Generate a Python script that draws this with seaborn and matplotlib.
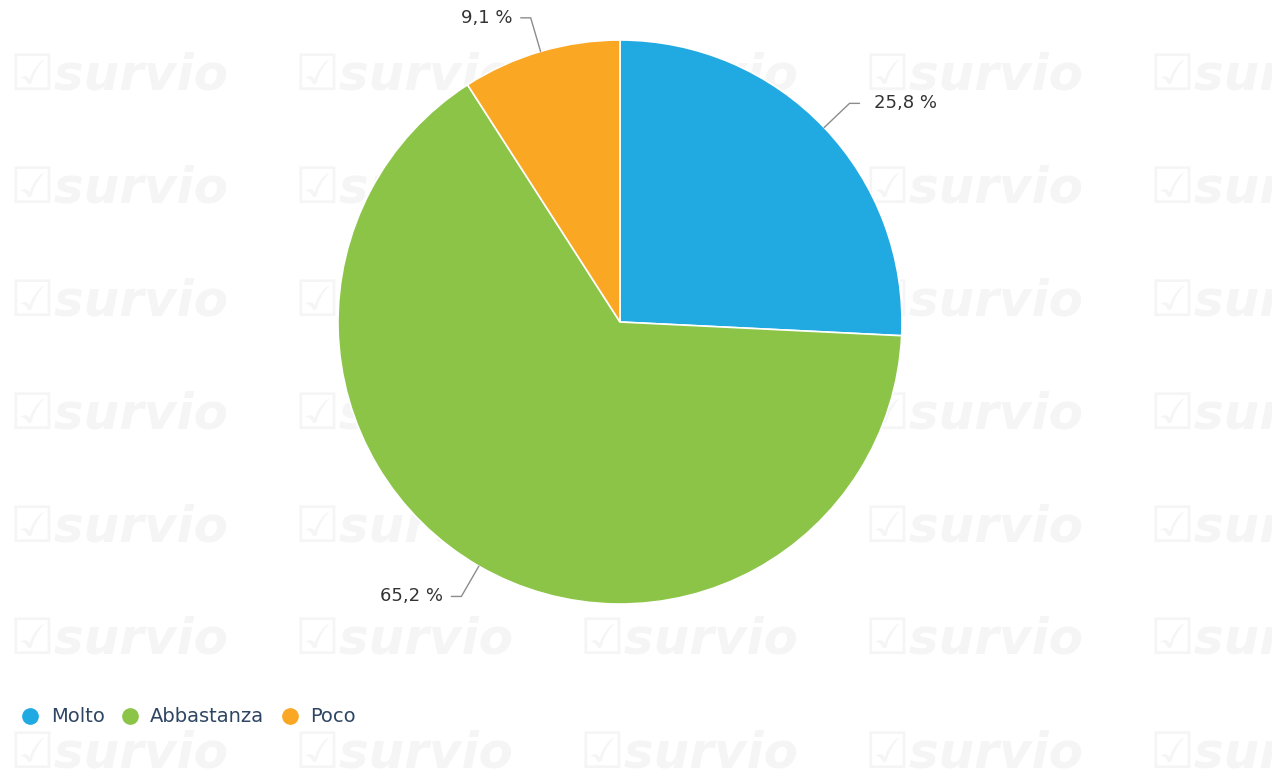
import numpy as np
import matplotlib.pyplot as plt
import seaborn as sns
from matplotlib.lines import Line2D

# dati
categorie = ['Molto', 'Abbastanza', 'Poco']
percentuali = [25.8, 65.2, 9.1]
etichette = ['25,8 %', '65,2 %', '9,1 %']
colori = ['#21a9e1', '#8bc447', '#faa723']

sns.set_theme(style='white')
plt.rcParams['font.family'] = ['DejaVu Sans']

W, H = 1272, 778
fig = plt.figure(figsize=(W / 100, H / 100), dpi=100)
fig.patch.set_facecolor('white')

# watermark survio (sfondo)
bg = fig.add_axes([0, 0, 1, 1], zorder=-10)
bg.set_xlim(0, W)
bg.set_ylim(H, 0)
bg.axis('off')
for xw in range(10, W, 285):
    for yw in range(75, H + 60, 113):
        bg.text(xw, yw, '\u2611survio', fontsize=36, fontweight='bold',
                fontstyle='italic', color='#f5f5f5', va='center', ha='left', clip_on=True)

# torta: centro (620, 322) px, raggio 282 px
cx, cy, R = 620, 322, 282
half = 320
ax = fig.add_axes([(cx - half) / W, (H - cy - half) / H, 2 * half / W, 2 * half / H])
wedges, _ = ax.pie(percentuali, colors=colori, startangle=90, counterclock=False,
                   radius=R, center=(0, 0), wedgeprops=dict(edgecolor='white', linewidth=1.2))
ax.set_xlim(-half, half)
ax.set_ylim(-half, half)
ax.set_aspect('equal')
ax.axis('off')
ax.patch.set_visible(False)

# etichette con connettori
for w, lab in zip(wedges, etichette):
    ang = np.deg2rad((w.theta1 + w.theta2) / 2)
    x0, y0 = R * np.cos(ang), R * np.sin(ang)
    x1, y1 = (R + 35) * np.cos(ang), (R + 35) * np.sin(ang)
    s = 1 if np.cos(ang) >= 0 else -1
    x2 = x1 + s * 10
    ax.plot([x0, x1, x2], [y0, y1, y1], color='#8c8c8c', lw=1, clip_on=False)
    ax.text(x2 + s * (14 if s > 0 else 8), y1, lab, ha='left' if s > 0 else 'right',
            va='center', fontsize=13, color='#333333', clip_on=False)

# legenda
handles = [Line2D([], [], marker='o', linestyle='', markersize=11,
                  markerfacecolor=c, markeredgecolor=c) for c in colori]
fig.legend(handles, categorie, loc='center left', bbox_to_anchor=(3 / W, 1 - 717 / H),
           ncol=3, frameon=False, fontsize=14, handletextpad=0.05, columnspacing=0.3,
           labelcolor='#2f4663', borderaxespad=0)

plt.savefig('out.png', dpi=100)
plt.close()
